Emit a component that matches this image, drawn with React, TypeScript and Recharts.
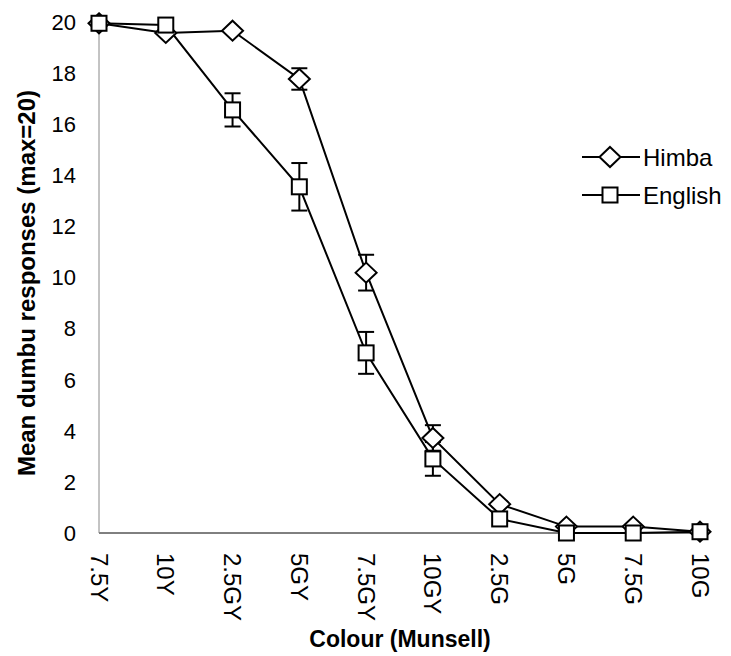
import { LineChart, Line, XAxis, YAxis, ErrorBar, Legend, Label } from 'recharts';

// Munsell hue steps along the yellow -> green boundary
const colours = ['7.5Y', '10Y', '2.5GY', '5GY', '7.5GY', '10GY', '2.5G', '5G', '7.5G', '10G'];

const himba = [19.95, 19.57, 19.66, 17.77, 10.19, 3.72, 1.13, 0.25, 0.25, 0.05];
const himbaErr = [0, 0, 0, 0.42, 0.7, 0.5, 0.1, 0, 0, 0];

const english = [19.95, 19.88, 16.56, 13.55, 7.05, 2.9, 0.55, 0, 0, 0.05];
const englishErr = [0, 0, 0.65, 0.93, 0.82, 0.66, 0, 0, 0, 0];

const yTicks = [0, 2, 4, 6, 8, 10, 12, 14, 16, 18, 20];

const data = colours.map((c, i) => ({
  colour: c,
  himba: himba[i],
  himbaErr: himbaErr[i],
  english: english[i],
  englishErr: englishErr[i],
}));

const FONT = '"Liberation Sans", Arial, Helvetica, sans-serif';

const Diamond = (props: any) => {
  const { cx, cy, index } = props;
  if (cx == null || cy == null) return null;
  return (
    <path
      key={`d-${index}`}
      d={`M${cx},${cy - 10} L${cx + 10.5},${cy} L${cx},${cy + 10} L${cx - 10.5},${cy} Z`}
      fill="#fff"
      stroke="#000"
      strokeWidth={2}
    />
  );
};

const Square = (props: any) => {
  const { cx, cy, index } = props;
  if (cx == null || cy == null) return null;
  return (
    <rect
      key={`s-${index}`}
      x={cx - 7.5}
      y={cy - 7.5}
      width={15}
      height={15}
      fill="#fff"
      stroke="#000"
      strokeWidth={2}
    />
  );
};

const RotatedTick = (props: any) => {
  const { x, y, payload } = props;
  return (
    <text
      transform={`translate(${x},${y + 12}) rotate(90)`}
      textAnchor="start"
      dominantBaseline="central"
      fontSize={24}
      fontFamily={FONT}
      fill="#000"
    >
      {payload.value}
    </text>
  );
};

const LegendBox = () => (
  <svg width={150} height={70} style={{ display: 'block' }}>
    <line x1={2} y1={12} x2={60} y2={12} stroke="#000" strokeWidth={2} />
    <path d="M30,2 L40.5,12 L30,22 L19.5,12 Z" fill="#fff" stroke="#000" strokeWidth={2} />
    <text x={63} y={12} dominantBaseline="central" fontSize={24} fontFamily={FONT}>
      Himba
    </text>
    <line x1={2} y1={50} x2={60} y2={50} stroke="#000" strokeWidth={2} />
    <rect x={22.5} y={42.5} width={15} height={15} fill="#fff" stroke="#000" strokeWidth={2} />
    <text x={63} y={50} dominantBaseline="central" fontSize={24} fontFamily={FONT}>
      English
    </text>
  </svg>
);

export default function App() {
  return (
    <div style={{ position: 'absolute', left: 0, top: 0, background: '#fff' }}>
      <LineChart
        width={731}
        height={656}
        data={data}
        margin={{ top: 22, right: 31, left: 39, bottom: 0 }}
      >
        <XAxis
          dataKey="colour"
          interval={0}
          tick={<RotatedTick />}
          tickLine={false}
          axisLine={{ stroke: '#000', strokeWidth: 1 }}
          height={123}
        >
          <Label
            content={() => (
              <text
                x={400}
                y={639}
                textAnchor="middle"
                dominantBaseline="central"
                fontSize={23}
                fontWeight="bold"
                fontFamily={FONT}
                fill="#000"
              >
                Colour (Munsell)
              </text>
            )}
          />
        </XAxis>
        <YAxis
          domain={[0, 20]}
          ticks={yTicks}
          interval={0}
          width={60}
          tickLine={false}
          tickSize={0}
          tickMargin={23}
          axisLine={{ stroke: '#888', strokeWidth: 1 }}
          tick={{ fontSize: 22, fontFamily: FONT, fill: '#000' }}
        >
          <Label
            content={() => (
              <text
                transform="translate(26,283) rotate(-90)"
                textAnchor="middle"
                dominantBaseline="central"
                fontSize={24}
                fontWeight="bold"
                fontFamily={FONT}
                fill="#000"
              >
                Mean dumbu responses (max=20)
              </text>
            )}
          />
        </YAxis>
        <Legend
          layout="horizontal"
          align="center"
          verticalAlign="middle"
          content={<LegendBox />}
          wrapperStyle={{ position: 'absolute', left: 580, top: 145, width: 150, height: 70 }}
        />
        <Line
          type="linear"
          dataKey="himba"
          stroke="#000"
          strokeWidth={2}
          dot={<Diamond />}
          activeDot={false}
          isAnimationActive={false}
        >
          <ErrorBar dataKey="himbaErr" direction="y" width={8} stroke="#000" strokeWidth={2} />
        </Line>
        <Line
          type="linear"
          dataKey="english"
          stroke="#000"
          strokeWidth={2}
          dot={<Square />}
          activeDot={false}
          isAnimationActive={false}
        >
          <ErrorBar dataKey="englishErr" direction="y" width={8} stroke="#000" strokeWidth={2} />
        </Line>
      </LineChart>
    </div>
  );
}
